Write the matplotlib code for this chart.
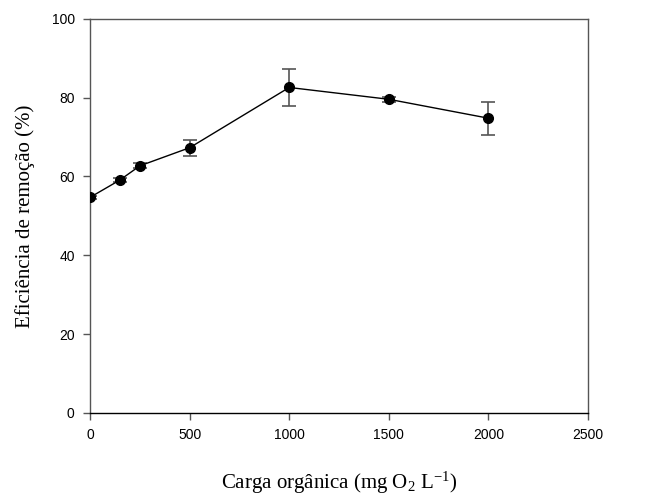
import matplotlib.pyplot as plt

plt.rcParams['mathtext.fontset'] = 'custom'
plt.rcParams['mathtext.rm'] = 'Liberation Serif'
plt.rcParams['mathtext.it'] = 'Liberation Serif:italic'

# carga orgânica (mg O2/L) e eficiência média de remoção (%)
carga = [0, 150, 250, 500, 1000, 1500, 2000]
eficiencia = [54.7, 59.1, 62.7, 67.3, 82.6, 79.6, 74.8]
desvio = [0.3, 0.5, 0.6, 2.0, 4.75, 0.7, 4.2]

fig = plt.figure(figsize=(6.57, 4.98), dpi=100)
ax = fig.add_axes([0.137, 0.171, 0.758, 0.791])

ax.errorbar(carga, eficiencia, yerr=desvio, fmt='none', ecolor='#555555',
            elinewidth=1.2, capsize=5, capthick=1.2, zorder=2)
ax.plot(carga, eficiencia, '-', color='black', lw=1.0, zorder=3)
ax.plot(carga, eficiencia, 'o', color='black', ms=7, zorder=4)

ax.set_xlim(0, 2500)
ax.set_ylim(0, 100)
ax.set_xticks([0, 500, 1000, 1500, 2000, 2500])
ax.set_yticks([0, 20, 40, 60, 80, 100])
ax.tick_params(direction='out', length=5, width=1, color='#555555',
               labelsize=10, pad=6)
for lab in ax.get_xticklabels() + ax.get_yticklabels():
    lab.set_family('Liberation Sans')
for s in ax.spines.values():
    s.set_color('#555555')
    s.set_linewidth(1.0)
ax.spines['bottom'].set_color('black')

ax.set_xlabel('Carga orgânica (mg O$_2$ L$^{-1}$)', family='Liberation Serif',
              fontsize=15, labelpad=20)
ax.set_ylabel('Eficiência de remoção (%)', family='Liberation Serif',
              fontsize=15, labelpad=12)

fig.savefig('out.png', dpi=100)
